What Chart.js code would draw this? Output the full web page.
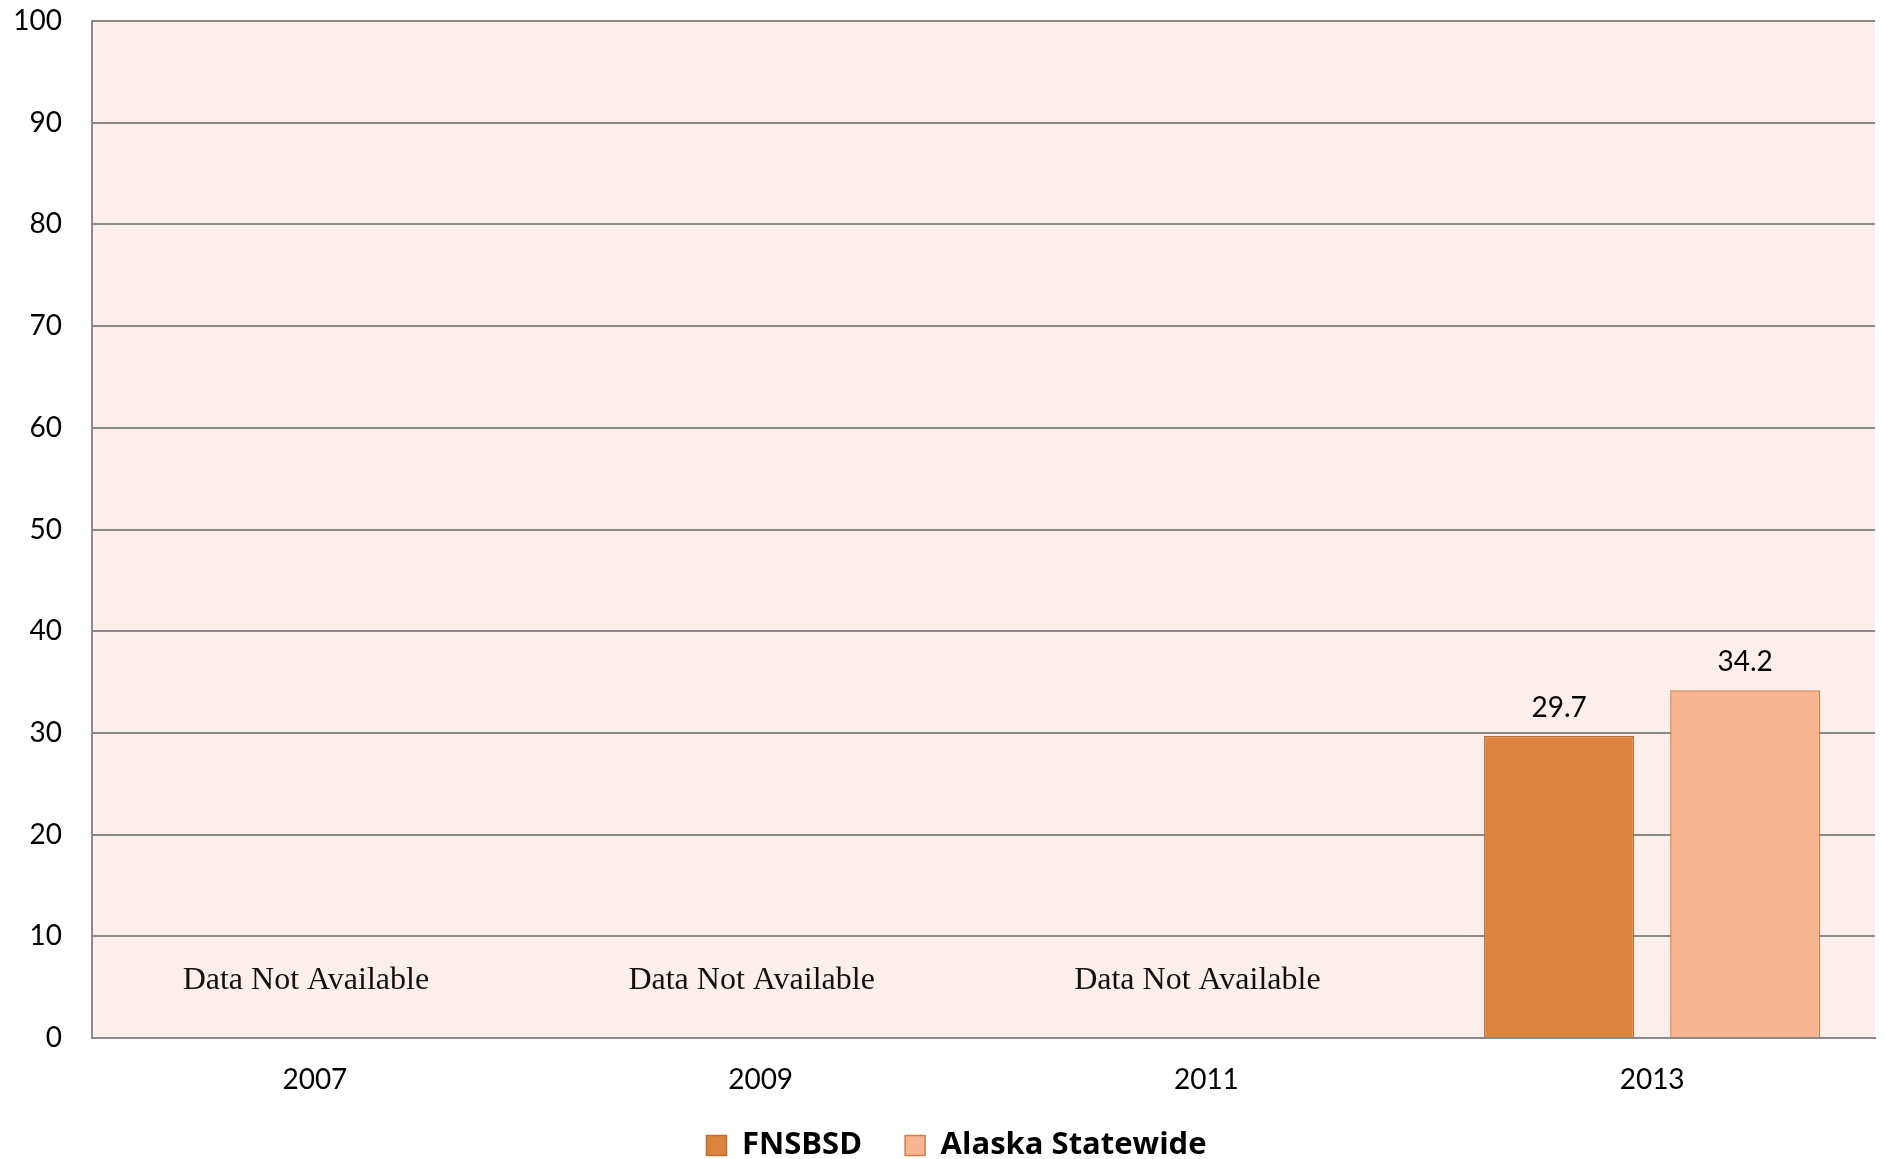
<!DOCTYPE html>
<html><head><meta charset="utf-8">
<script src="https://cdn.jsdelivr.net/npm/chart.js@4/dist/chart.umd.min.js"></script>
<style>html,body{margin:0;padding:0;background:#fff}#wrap{width:1886px;height:1159px}</style>
</head><body><div id="wrap"><canvas id="c" width="1886" height="1159"></canvas></div>
<script>
const categories = ['2007', '2009', '2011', '2013'];
const fnsbsd = [null, null, null, 29.7];
const alaska = [null, null, null, 34.2];
const naLabels = ['Data Not Available', 'Data Not Available', 'Data Not Available', ''];
const seriesNames = ['FNSBSD', 'Alaska Statewide'];
const yMin = 0, yMax = 100, yStep = 10;
const naValue = 5.6;

const bgPlugin = {
  id: 'plotBg',
  beforeDraw(chart) {
    const a = chart.chartArea, ctx = chart.ctx;
    ctx.save();
    ctx.fillStyle = '#FCEEEA';
    ctx.fillRect(a.left, a.top, a.right - a.left, a.bottom - a.top);
    ctx.restore();
  }
};
const legendShift = {
  id: 'legendShift',
  afterLayout(chart) {
    const lg = chart.legend;
    if (!lg) return;
    lg.left += 19; lg.right += 19;
    lg.top -= 13; lg.bottom -= 13;
  }
};
const textPlugin = {
  id: 'texts',
  afterDatasetsDraw(chart) {
    const ctx = chart.ctx, xs = chart.scales.x, ys = chart.scales.y;
    ctx.save();
    ctx.fillStyle = '#111';
    ctx.textAlign = 'center';
    ctx.textBaseline = 'middle';
    ctx.font = '32px "Liberation Serif"';
    naLabels.forEach((t, i) => {
      if (t) ctx.fillText(t, xs.getPixelForValue(i) - 9, ys.getPixelForValue(naValue));
    });
    ctx.font = '28px Lato';
    ctx.textBaseline = 'bottom';
    ctx.fillStyle = '#000';
    chart.data.datasets.forEach((ds, di) => {
      const meta = chart.getDatasetMeta(di);
      ds.data.forEach((v, i) => {
        if (v == null) return;
        const el = meta.data[i];
        ctx.fillText(v.toFixed(1), el.x, el.y - 14);
      });
    });
    ctx.restore();
  }
};

new Chart(document.getElementById('c'), {
  type: 'bar',
  data: {
    labels: categories,
    datasets: [
      { label: seriesNames[0], data: fnsbsd, backgroundColor: '#DB843D', borderColor: '#BF6E30', borderWidth: 1.5, categoryPercentage: 0.835, barPercentage: 0.806 },
      { label: seriesNames[1], data: alaska, backgroundColor: '#F8B592', borderColor: '#D08045', borderWidth: 1.5, categoryPercentage: 0.835, barPercentage: 0.806 }
    ]
  },
  options: {
    responsive: false,
    animation: false,
    devicePixelRatio: 1,
    layout: { padding: { left: 0, right: 11, top: 21, bottom: -25 } },
    plugins: {
      legend: {
        position: 'bottom',
        labels: {
          boxWidth: 20, boxHeight: 20, padding: 43, color: '#000',
          font: { family: 'Open Sans', size: 31, weight: 'bold' }
        }
      },
      tooltip: { enabled: false }
    },
    scales: {
      x: {
        grid: { display: false, drawTicks: false },
        border: { display: true, color: '#8a8a8a', width: 2 },
        ticks: { color: '#000', padding: 25, font: { family: 'Lato', size: 28 } },
        afterFit(s) { s.height = 62; }
      },
      y: {
        min: yMin, max: yMax,
        grid: { color: '#8a8a8a', lineWidth: 2, drawTicks: false },
        border: { display: true, color: '#8a8a8a', width: 2 },
        ticks: { stepSize: yStep, color: '#000', padding: 30, font: { family: 'Lato', size: 28 } },
        afterFit(s) { s.width = 92; s.paddingTop = 0; s.paddingBottom = 0; }
      }
    }
  },
  plugins: [bgPlugin, legendShift, textPlugin]
});
</script></body></html>
